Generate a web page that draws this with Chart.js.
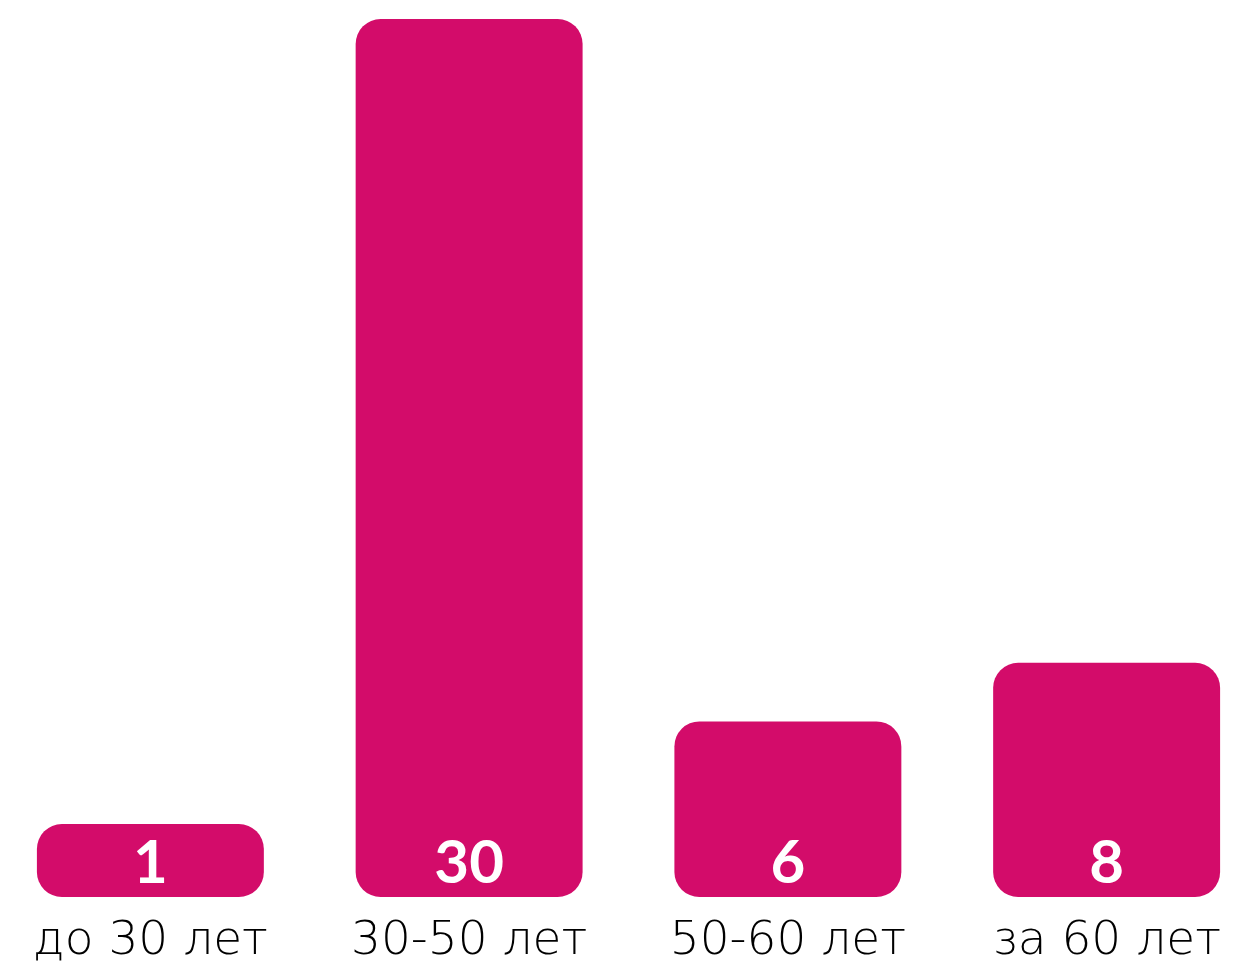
<!DOCTYPE html>
<html>
<head>
<meta charset="utf-8">
<script src="https://cdn.jsdelivr.net/npm/chart.js@4"></script>
<style>
    html, body { margin: 0; padding: 0; background: #fff; overflow: hidden; }
    #wrap { position: absolute; left: -9px; top: 0; width: 1275px; height: 961px; }
</style>
</head>
<body>
<div id="wrap"><canvas id="ageChart"></canvas></div>
<script>
const ageGroups = ['до 30 лет', '30-50 лет', '50-60 лет', 'за 60 лет'];
const peopleCount = [1, 30, 6, 8];
const barColor = 'rgb(211, 12, 106)';

// White value labels near the bottom of each bar
const valueLabels = {
    id: 'valueLabels',
    afterDatasetsDraw(chart) {
        const ctx = chart.ctx;
        const meta = chart.getDatasetMeta(0);
        ctx.save();
        ctx.fillStyle = '#fff';
        ctx.font = '700 60px Lato';
        ctx.textAlign = 'center';
        ctx.textBaseline = 'middle';
        meta.data.forEach((bar, i) => {
            ctx.fillText(String(peopleCount[i]), bar.x, bar.base - 33);
        });
        ctx.restore();
    }
};

new Chart(document.getElementById('ageChart'), {
    type: 'bar',
    data: {
        labels: ageGroups,
        datasets: [{
            data: peopleCount,
            backgroundColor: barColor,
            borderRadius: 25,
            borderSkipped: false,
            minBarLength: 73,
            barPercentage: 0.712,
            categoryPercentage: 1
        }]
    },
    options: {
        responsive: true,
        maintainAspectRatio: false,
        animation: false,
        layout: {
            padding: { top: 19, bottom: -17, left: 0, right: 0 }
        },
        plugins: {
            legend: { display: false },
            tooltip: { enabled: false }
        },
        scales: {
            x: {
                grid: { display: false },
                border: { display: false },
                ticks: {
                    color: '#000',
                    padding: 13,
                    font: { family: 'DejaVu Sans', size: 47, weight: '200', lineHeight: 1 }
                }
            },
            y: {
                display: false,
                min: 0,
                max: 30
            }
        }
    },
    plugins: [valueLabels]
});
</script>
</body>
</html>
